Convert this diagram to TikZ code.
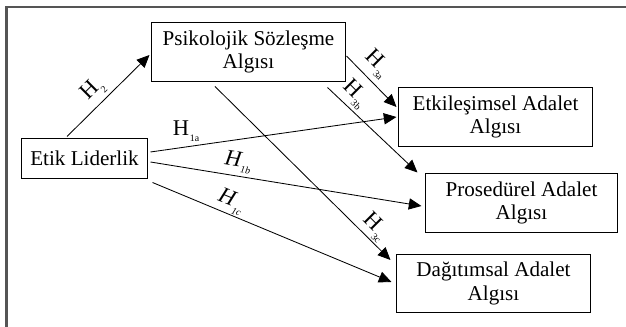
\documentclass[tikz,border=0pt]{standalone}
\usepackage{fontspec}
\setmainfont{Liberation Serif}
\usepackage{tikz}
\usetikzlibrary{arrows.meta,calc,positioning}
\definecolor{FrameGray}{RGB}{85,85,85}
\newcommand{\hyp}[1]{H\kern.6pt\raisebox{-.6ex}{\scriptsize #1}}
\newcommand{\hypit}[1]{\textit{H\kern.6pt\raisebox{-.6ex}{\scriptsize #1}}}
\tikzset{
  kutu/.style={draw,line width=0.7pt,align=center,inner sep=2pt,
               font=\fontsize{15}{17}\selectfont},
  genis/.style={kutu,minimum width=4.825cm,minimum height=1.45cm},
  ok/.style={-{Triangle[length=9pt,width=8pt]},line width=0.6pt},
  etiket/.style={inner sep=0pt,font=\fontsize{16}{18}\selectfont}
}

\begin{document}
\begin{tikzpicture}[x=0.025cm,y=0.025cm]
\useasboundingbox (0,0) rectangle (626,327);
\draw[FrameGray,line width=1.5pt] (6.5,0) -- (6.5,320) -- (626,320);
\node[genis] (psik) at (248.5,275) {Psikolojik Sözleşme\\Algısı};
\node[kutu,minimum width=3.125cm,minimum height=0.975cm] (etik) at (84.5,168.5) {Etik Liderlik};
\node[genis] (etki) at (495.5,210) {Etkileşimsel Adalet\\Algısı};
\node[genis,minimum width=4.775cm] (pros) at (521.5,124) {Prosedürel Adalet\\Algısı};
\node[genis] (dag) at (493.5,43.5) {Dağıtımsal Adalet\\Algısı};
\draw[ok] ($(etik.north)+(-17.5,2)$) -- ($(psik.west)+(-2,-3)$);
\draw[ok] ($(etik.east)+(3,6.5)$) -- ($(etki.west)+(-2,0)$);
\draw[ok] ($(etik.east)+(3,-3.5)$) -- ($(pros.west)+(-4,-3)$);
\draw[ok] ($(etik.south east)+(5,-4)$) -- ($(dag.west)+(-5,1.5)$);
\draw[ok] ($(psik.east)+(1,-4)$) -- ($(etki.west)+(-2,10)$);
\draw[ok] ($(psik.south east)+(-18,-6)$) -- ($(pros.north west)+(-8,1)$);
\draw[ok] ($(psik.south)+(-33.5,-5)$) -- ($(dag.north west)+(-6,-6)$);
\node[etiket,rotate=45] (h2) at (93,237) {\hyp{2}};
\node[etiket] (h1a) at (186,196) {\hyp{1a}};
\node[etiket,rotate=-9] (h1b) at (238,165) {\hypit{1b}};
\node[etiket,rotate=-22] (h1c) at (231,125) {\hypit{1c}};
\node[etiket,rotate=-45] (h3a) at (377,263) {\hyp{3a}};
\node[etiket,rotate=-45] (h3b) at (355,233) {\hyp{3b}};
\node[etiket,rotate=-45] (h3c) at (375,100) {\hyp{3c}};
\end{tikzpicture}
\end{document}
